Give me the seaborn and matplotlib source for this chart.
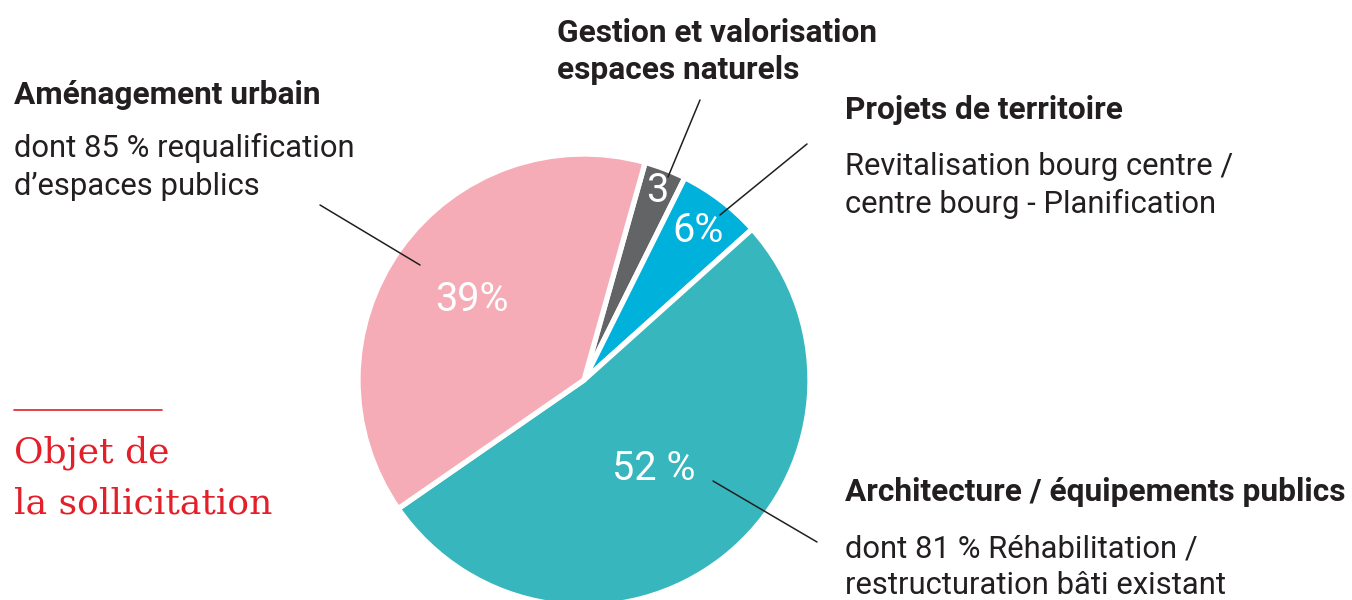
import numpy as np
import matplotlib
matplotlib.use("Agg")
import matplotlib.pyplot as plt
import seaborn as sns

# Données du graphique (part des demandes par objet)
categories = ["Gestion et valorisation espaces naturels", "Projets de territoire",
              "Architecture / équipements publics", "Aménagement urbain"]
shares = [3, 6, 52, 39]
slice_labels = ["3", "6%", "52 %", "39%"]
colors = ["#636466", "#00b1dc", "#38b6bd", "#f6acb6"]

W, H = 1352, 600
DARK = "#231f20"
RED = "#e3202a"

sns.set_theme(style="white")
plt.rcParams["font.family"] = ["Roboto", "DejaVu Sans"]

fig = plt.figure(figsize=(W / 100, H / 100), dpi=100)
ax = fig.add_axes([0, 0, 1, 1])


def py(y):
    """Coordonnée pixel (depuis le haut) -> coordonnée axe."""
    return H - y


cx, cy, r = 584, py(380), 226
wedges, _ = ax.pie(shares, colors=colors, startangle=74.3, counterclock=False,
                   center=(cx, cy), radius=r, frame=True,
                   wedgeprops=dict(edgecolor="white", linewidth=3.8))
ax.set_xlim(0, W)
ax.set_ylim(0, H)
ax.set_aspect("equal")
ax.axis("off")

# étiquettes dans les parts
label_dist = [0.9, 0.83, 0.5, 0.61]
for w, lab, d in zip(wedges, slice_labels, label_dist):
    ang = np.deg2rad((w.theta1 + w.theta2) / 2)
    ax.text(cx + d * r * np.cos(ang), cy + d * r * np.sin(ang), lab,
            color="white", fontsize=28.5, ha="center", va="center")

# traits de rappel
leaders = [((700, 100), (668, 177)), ((807, 144), (720, 215)),
           ((713, 481), (817, 542)), ((320, 205), (420, 265))]
for (x0, y0), (x1, y1) in leaders:
    ax.plot([x0, x1], [py(y0), py(y1)], color=DARK, lw=1.1)

BOLD = 22.8
REG = 22.3


def block(x, y, title, lines, y_lines):
    ax.text(x, py(y), title, fontsize=BOLD, fontweight="bold", color=DARK,
            ha="left", va="baseline")
    for t, yy in zip(lines, y_lines):
        ax.text(x, py(yy), t, fontsize=REG, color=DARK, ha="left", va="baseline")


block(14, 104, "Aménagement urbain",
      ["dont 85 % requalification", "d’espaces publics"], [157, 195])
ax.text(557, py(42), "Gestion et valorisation", fontsize=BOLD, fontweight="bold",
        color=DARK, ha="left", va="baseline")
ax.text(557, py(79), "espaces naturels", fontsize=BOLD, fontweight="bold",
        color=DARK, ha="left", va="baseline")
block(845, 119, "Projets de territoire",
      ["Revitalisation bourg centre /", "centre bourg - Planification"], [175, 213])
block(845, 501, "Architecture / équipements publics",
      ["dont 81 % Réhabilitation /", "restructuration bâti existant"], [557, 594])

# encart "Objet de la sollicitation"
ax.plot([14, 162], [py(410), py(410)], color=RED, lw=1.2)
serif = ["DejaVu Serif"]
ax.text(14, py(463), "Objet de", fontsize=26, color=RED,
        family=serif, ha="left", va="baseline")
ax.text(14, py(513), "la sollicitation", fontsize=26, color=RED,
        family=serif, ha="left", va="baseline")

fig.savefig("out.png", dpi=100, facecolor="white")
